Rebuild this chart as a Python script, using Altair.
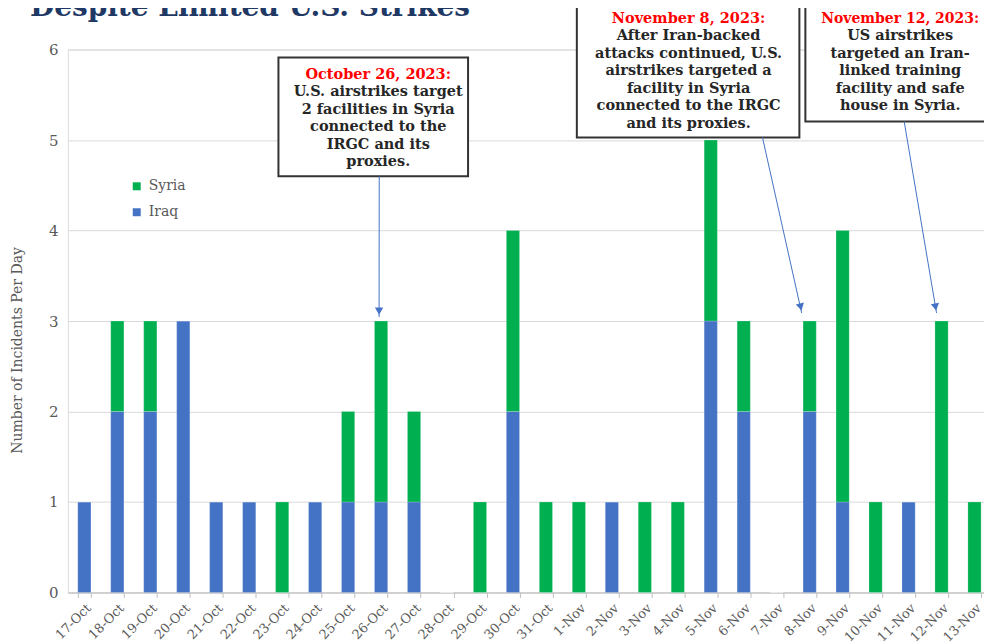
import altair as alt
import pandas as pd

# ---- data ----
dates = ["17-Oct", "18-Oct", "19-Oct", "20-Oct", "21-Oct", "22-Oct", "23-Oct",
         "24-Oct", "25-Oct", "26-Oct", "27-Oct", "28-Oct", "29-Oct", "30-Oct",
         "31-Oct", "1-Nov", "2-Nov", "3-Nov", "4-Nov", "5-Nov", "6-Nov",
         "7-Nov", "8-Nov", "9-Nov", "10-Nov", "11-Nov", "12-Nov", "13-Nov"]
iraq = [1, 2, 2, 3, 1, 1, 0, 1, 1, 1, 1, 0, 0, 2, 0, 0, 1, 0, 0, 3, 2, 0, 2, 1, 0, 1, 0, 0]
syria = [0, 1, 1, 0, 0, 0, 1, 0, 1, 2, 1, 0, 1, 2, 1, 1, 0, 1, 1, 2, 1, 0, 1, 3, 1, 0, 3, 1]
countries = ["Syria", "Iraq"]
colors = ["#00B050", "#4472C4"]

title_text = "Despite Limited U.S. Strikes"
y_title = "Number of Incidents Per Day"

ann_dates = ["26-Oct", "8-Nov", "12-Nov"]
ann_heads = ["October 26, 2023:", "November 8, 2023:", "November 12, 2023:"]
ann_bodies = [
    ["U.S. airstrikes target", "2 facilities in Syria", "connected to the", "IRGC and its", "proxies."],
    ["After Iran-backed", "attacks continued, U.S.", "airstrikes targeted a", "facility in Syria",
     "connected to the IRGC", "and its proxies."],
    ["US airstrikes", "targeted an Iran-", "linked training", "facility and safe", "house in Syria."],
]

rows = []
for d, i, s in zip(dates, iraq, syria):
    rows.append({"date": d, "country": "Iraq", "count": i, "ord": 0})
    rows.append({"date": d, "country": "Syria", "count": s, "ord": 1})
df = pd.DataFrame(rows)

totals = {d: i + s for d, i, s in zip(dates, iraq, syria)}
ann_df = pd.DataFrame({"date": ann_dates, "total": [totals[d] for d in ann_dates]})

FONT = "DejaVu Serif"
GRAY = "#595959"
W, H = 918, 544
XRANGE = 925

xscale = alt.Scale(domain=dates, range=[0, XRANGE], paddingInner=0.6, paddingOuter=0.3)
yscale = alt.Scale(domain=[0, 6], nice=False)

bars = alt.Chart(df).mark_bar(stroke="white", strokeWidth=0.5, strokeOpacity=0.4).encode(
    x=alt.X("date:N", scale=xscale, sort=dates,
            axis=alt.Axis(title=None, labelAngle=-45, labelFont=FONT, labelFontSize=13,
                          labelColor=GRAY, tickBand="extent", tickColor="#BFBFBF",
                          tickSize=5, domainColor="#BFBFBF", labelPadding=4, grid=False)),
    y=alt.Y("count:Q", stack="zero", scale=yscale,
            axis=alt.Axis(title=y_title, values=[0, 1, 2, 3, 4, 5, 6], format="d",
                          labelFont=FONT, labelFontSize=15, labelColor=GRAY, labelPadding=10,
                          ticks=False, domain=False, gridColor="#D9D9D9", titleFont=FONT,
                          titleFontSize=14, titleColor=GRAY, titleFontWeight="normal",
                          titleX=-50, titleY=301, titleAngle=270, titleAlign="center",
                          titleBaseline="middle")),
    color=alt.Color("country:N", scale=alt.Scale(domain=countries, range=colors),
                    legend=alt.Legend(title=None, orient="none", legendX=62, legendY=130,
                                      symbolType="square", symbolSize=64, labelFont=FONT,
                                      labelFontSize=14, labelColor=GRAY, rowPadding=12,
                                      labelOffset=5, padding=0, symbolStrokeWidth=0)),
    order=alt.Order("ord:Q", sort="ascending"),
)

layers = [bars]

# title (partly cut off at top, as in the reference)
layers.append(alt.Chart(pd.DataFrame({"t": [title_text]})).mark_text(
    font=FONT, fontSize=28, fontWeight="bold", color="#1F3864", align="left",
    baseline="alphabetic"
).encode(x=alt.value(-38), y=alt.value(-34), text="t:N"))

# annotation boxes
boxes = [(211, 8, 401, 127), (510, -45, 733, 88), (739, -45, 928, 72)]
text_cx = [311, 622, 834]
head_y = [25, -31, -31]
head_size = [14.5, 14.5, 14]
for (x1, y1, x2, y2), cx, hy, hs, head, body in zip(boxes, text_cx, head_y, head_size,
                                                     ann_heads, ann_bodies):
    layers.append(alt.Chart(pd.DataFrame({"a": [0]})).mark_rect(
        fill="white", stroke="#333333", strokeWidth=2
    ).encode(x=alt.value(x1), x2=alt.value(x2), y=alt.value(y1), y2=alt.value(y2)))
    layers.append(alt.Chart(pd.DataFrame({"t": [head]})).mark_text(
        font=FONT, fontSize=hs, fontWeight="bold", color="#FF0000", align="center",
        baseline="middle"
    ).encode(x=alt.value(cx), y=alt.value(hy), text="t:N"))
    layers.append(alt.Chart(pd.DataFrame({"a": [0]})).mark_text(
        font=FONT, fontSize=14.5, fontWeight="bold", color="#262626", align="center",
        baseline="middle", lineHeight=17.6, text=body
    ).encode(x=alt.value(cx), y=alt.value(hy + 17.6)))

# arrows: start at box bottom, tip at the bar top of the annotated day
arrow_start = [(312, 127), (696, 88), (838, 72)]
tip_dx = [-2, -8, -5]
tip_dy = [-6, -10, -10]
angles = [0, 347, 350]
for k, d in enumerate(ann_dates):
    sub = ann_df[ann_df["date"] == d]
    sx, sy = arrow_start[k]
    layers.append(alt.Chart(sub).mark_rule(
        color="#4472C4", strokeWidth=1, xOffset=tip_dx[k], yOffset=tip_dy[k] + 2
    ).encode(x=alt.X("date:N", scale=xscale, sort=dates),
             y=alt.Y("total:Q", scale=yscale),
             x2=alt.value(sx), y2=alt.value(sy)))
    layers.append(alt.Chart(sub).mark_point(
        shape="triangle-down", filled=True, color="#4472C4", size=70, opacity=1,
        angle=angles[k], xOffset=tip_dx[k] - 1 * (k > 0), yOffset=tip_dy[k] - 4
    ).encode(x=alt.X("date:N", scale=xscale, sort=dates),
             y=alt.Y("total:Q", scale=yscale)))

chart = alt.layer(*layers).properties(
    width=W, height=H,
    autosize=alt.AutoSizeParams(type="none"),
    padding={"left": 60, "top": 41, "right": 0, "bottom": 60},
).configure_view(stroke=None).configure(background="white")

chart.save("out.html", embed_options={"renderer": "svg", "actions": False})
